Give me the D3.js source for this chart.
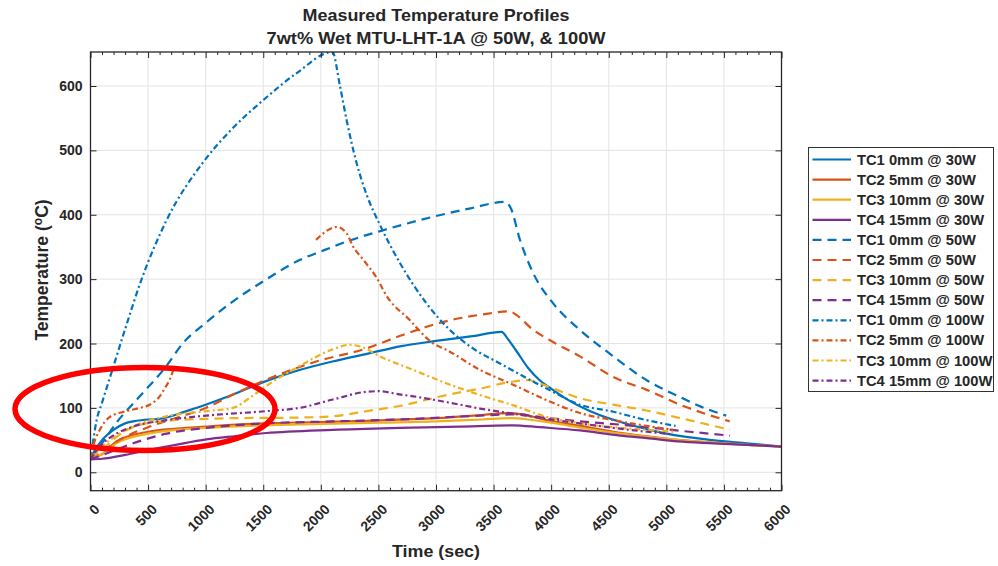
<!DOCTYPE html>
<html><head><meta charset="utf-8">
<script src="https://cdn.jsdelivr.net/npm/d3@7"></script>
<style>
body{margin:0;background:#fff}
svg{display:block}
text{font-family:"Liberation Sans",Arial,Helvetica,sans-serif;font-weight:bold;fill:#262626}
</style>
</head><body>
<svg id="c" width="998" height="566"></svg>
<script>
// ---------------- data (time s, temperature °C) ----------------
const xTicks = [0,500,1000,1500,2000,2500,3000,3500,4000,4500,5000,5500,6000];
const yTicks = [0,100,200,300,400,500,600];
const labels = ["TC1 0mm @ 30W","TC2 5mm @ 30W","TC3 10mm @ 30W","TC4 15mm @ 30W",
  "TC1 0mm @ 50W","TC2 5mm @ 50W","TC3 10mm @ 50W","TC4 15mm @ 50W",
  "TC1 0mm @ 100W","TC2 5mm @ 100W","TC3 10mm @ 100W","TC4 15mm @ 100W"];

const tc1_30 = [[0,22],[40,35],[100,50],[200,66],[300,76],[400,80],[500,82],[600,83],[700,87],[800,93],[1000,105],[1200,118],[1500,140],[1800,158],[2100,172],[2400,184],[2700,196],[3000,204],[3300,211],[3570,218],[3620,208],[3700,188],[3800,162],[3900,143],[4000,130],[4150,112],[4350,94],[4700,73],[5000,60],[5400,50],[5700,45],[6000,40]];
const tc2_30 = [[0,22],[100,28],[225,48],[500,63],[750,68],[1000,71],[1500,76],[2000,78],[2400,80],[3000,84],[3400,89],[3620,92],[3750,90],[3960,81],[4250,72],[4540,63],[4830,56],[5120,50],[5500,45],[6000,40]];
const tc3_30 = [[0,22],[100,28],[225,45],[500,60],[750,66],[1000,69],[1500,73],[2000,75],[2500,77],[3000,79],[3400,82],[3650,84],[3800,82],[4000,77],[4300,68],[4600,60],[5000,52],[5500,45],[6000,40]];
const tc4_30 = [[0,20],[100,21],[300,27],[514,35],[750,43],[1006,51],[1250,56],[1526,61],[2104,66],[2682,69],[3200,71],[3671,73],[3900,70],[4250,65],[4600,57],[4830,53],[5100,48],[5408,45],[6000,40]];

const tc1_50 = [[0,22],[80,40],[225,77],[428,118],[659,165],[800,200],[1000,232],[1211,262],[1530,300],[1819,330],[2000,343],[2250,360],[2542,376],[2977,397],[3300,410],[3600,420],[3650,410],[3729,361],[3845,309],[4019,262],[4250,221],[4540,180],[4829,143],[5118,117],[5300,102],[5520,88]];
const tc2_50 = [[0,22],[100,33],[300,55],[500,70],[700,82],[1000,100],[1300,126],[1670,154],[1960,172],[2390,192],[2690,212],[3120,236],[3400,245],[3640,250],[3700,244],[3845,221],[3990,205],[4250,180],[4540,148],[4830,128],[5120,105],[5550,79]];
const tc3_50 = [[0,22],[100,35],[250,58],[370,70],[659,80],[1000,83],[1237,84],[1815,85],[2104,87],[2400,95],[2682,103],[3093,120],[3382,130],[3671,141],[3800,143],[3900,138],[4050,128],[4250,115],[4540,105],[4829,96],[5100,85],[5553,66]];
const tc4_50 = [[0,20],[150,30],[370,45],[659,60],[1006,69],[1526,76],[2104,79],[2682,82],[3382,88],[3700,90],[3900,86],[4250,79],[4600,74],[4829,70],[5200,63],[5553,57]];

const tc1_100 = [[0,22],[20,45],[52,80],[100,108],[200,165],[300,222],[444,300],[662,392],[980,482],[1211,530],[1500,578],[1790,620],[2100,653],[2166,600],[2224,547],[2311,480],[2400,430],[2514,384],[2687,325],[2919,262],[3121,221],[3324,192],[3556,169],[3961,130],[4250,105],[4540,94],[4829,81],[5080,72]];
const tc2_100 = [[0,22],[30,45],[81,66],[168,86],[312,95],[428,100],[514,105],[601,118],[650,132],[688,144],[717,158],[1300,null],[1958,361],[2138,381],[2224,371],[2282,350],[2369,330],[2514,293],[2542,283],[2774,236],[2977,200],[3093,190],[3382,159],[3671,136],[3961,112],[4250,92],[4540,81],[4829,72],[5060,66]];
const tc3_100 = [[0,22],[100,40],[300,65],[659,87],[1006,95],[1237,100],[1400,118],[1526,134],[1815,165],[2104,191],[2249,198],[2350,195],[2514,180],[2803,159],[3093,138],[3382,120],[3671,104],[3961,86],[4250,76],[4540,70],[4829,66],[5060,63]];
const tc4_100 = [[0,20],[81,40],[225,60],[370,71],[659,81],[1006,88],[1526,95],[1815,100],[2104,113],[2393,125],[2500,126],[2682,121],[2803,118],[3093,109],[3382,99],[3671,91],[3961,83],[4250,76],[4540,69],[4829,63],[5060,59]];

const seriesData = [tc1_30,tc2_30,tc3_30,tc4_30,tc1_50,tc2_50,tc3_50,tc4_50,tc1_100,tc2_100,tc3_100,tc4_100];

// ---------------- styles ----------------
const colors = ["#0072BD","#D95319","#EDB120","#7E2F8E"];
const dashes = [null, "9,6", "6,3,2,3"];

const svg = d3.select("#c");
const L = 90.5, R = 781.5, T = 52, B = 490.7;
const x = d3.scaleLinear().domain([0,6000]).range([L,R]);
const y = d3.scaleLinear().domain([-28.6,652.8]).range([B,T]);
const minorX = d3.range(0,6001,100).filter(v => v % 500 !== 0);
const fmt = d3.format("d");

// grid
svg.append("g").selectAll("line").data(xTicks).join("line")
  .attr("x1", d=>x(d)).attr("x2", d=>x(d)).attr("y1",T).attr("y2",B)
  .attr("stroke","#e3e3e3").attr("stroke-width",1);
svg.append("g").selectAll("line").data(yTicks).join("line")
  .attr("y1", d=>y(d)).attr("y2", d=>y(d)).attr("x1",L).attr("x2",R)
  .attr("stroke","#e3e3e3").attr("stroke-width",1);

// lines
svg.append("clipPath").attr("id","pc").append("rect")
  .attr("x",L).attr("y",T).attr("width",R-L).attr("height",B-T);
const line = d3.line().defined(d=>d[1]!=null).x(d=>x(d[0])).y(d=>y(d[1])).curve(d3.curveMonotoneX);
const lg = svg.append("g").attr("clip-path","url(#pc)");
seriesData.forEach((s,i)=>{
  lg.append("path").datum(s).attr("d",line).attr("fill","none")
    .attr("stroke",colors[i%4]).attr("stroke-width",2.2)
    .attr("stroke-dasharray",dashes[Math.floor(i/4)]);
});

// axes
function clean(g){ g.select(".domain").remove(); g.selectAll("line").attr("stroke","#262626"); }
const bx = svg.append("g").attr("transform",`translate(0,${B})`)
  .call(d3.axisBottom(x).tickValues(xTicks).tickFormat(fmt).tickSizeInner(-6).tickSizeOuter(0));
clean(bx);
bx.selectAll("text").attr("x",0).attr("y",0).attr("dy","0.35em")
  .attr("text-anchor","end").attr("transform","translate(6,16) rotate(-45)")
  .style("font-size","14px");
const bxm = svg.append("g").attr("transform",`translate(0,${B})`)
  .call(d3.axisBottom(x).tickValues(minorX).tickSizeInner(-3).tickSizeOuter(0).tickFormat(""));
clean(bxm);
const tx = svg.append("g").attr("transform",`translate(0,${T})`)
  .call(d3.axisTop(x).tickValues(xTicks).tickSizeInner(-6).tickSizeOuter(0).tickFormat(""));
clean(tx);
const txm = svg.append("g").attr("transform",`translate(0,${T})`)
  .call(d3.axisTop(x).tickValues(minorX).tickSizeInner(-3).tickSizeOuter(0).tickFormat(""));
clean(txm);
const ly = svg.append("g").attr("transform",`translate(${L},0)`)
  .call(d3.axisLeft(y).tickValues(yTicks).tickFormat(fmt).tickSizeInner(-6).tickSizeOuter(0));
clean(ly);
ly.selectAll("text").style("font-size","14px").attr("x",-8);
const ry = svg.append("g").attr("transform",`translate(${R},0)`)
  .call(d3.axisRight(y).tickValues(yTicks).tickSizeInner(-6).tickSizeOuter(0).tickFormat(""));
clean(ry);

svg.append("rect").attr("x",L).attr("y",T).attr("width",R-L).attr("height",B-T)
  .attr("fill","none").attr("stroke","#262626").attr("stroke-width",1.3);

// titles
svg.append("text").attr("x",436).attr("y",21).attr("text-anchor","middle")
  .style("font-size","16.5px").attr("textLength",267).attr("lengthAdjust","spacingAndGlyphs")
  .text("Measured Temperature Profiles");
svg.append("text").attr("x",436).attr("y",44).attr("text-anchor","middle")
  .style("font-size","16.5px").attr("textLength",339).attr("lengthAdjust","spacingAndGlyphs")
  .text("7wt% Wet MTU-LHT-1A @ 50W, & 100W");
svg.append("text").attr("x",436).attr("y",557).attr("text-anchor","middle")
  .style("font-size","17px").attr("textLength",88).attr("lengthAdjust","spacingAndGlyphs")
  .text("Time (sec)");
const yl = svg.append("text").attr("transform","translate(48,270) rotate(-90)")
  .attr("text-anchor","middle").style("font-size","17.5px");
yl.append("tspan").text("Temperature (");
yl.append("tspan").attr("dy","-6").style("font-size","12px").text("o");
yl.append("tspan").attr("dy","6").text("C)");

// legend
const leg = svg.append("g");
leg.append("rect").attr("x",808.5).attr("y",147.5).attr("width",185).attr("height",244)
  .attr("fill","#fff").attr("stroke","#333").attr("stroke-width",1);
let k = 1;
labels.forEach((lab,i)=>{
  const yy = 159.5 + i*20.1;
  leg.append("line").attr("x1",812.5).attr("x2",851).attr("y1",yy).attr("y2",yy)
    .attr("stroke",colors[i%4]).attr("stroke-width",2.2)
    .attr("stroke-dasharray",dashes[Math.floor(i/4)]);
  const t = leg.append("text").attr("x",857).attr("y",yy).attr("dy","0.36em")
    .style("font-size","14px").text(lab);
  const w = t.node().getComputedTextLength();
  if (i === 0) k = 119 / w;
  t.attr("textLength", w*k).attr("lengthAdjust","spacingAndGlyphs");
});

// red annotation ellipse
svg.append("ellipse").attr("cx",145).attr("cy",409).attr("rx",130).attr("ry",41.5)
  .attr("fill","none").attr("stroke","#f00").attr("stroke-width",5.5);
</script>
</body></html>
